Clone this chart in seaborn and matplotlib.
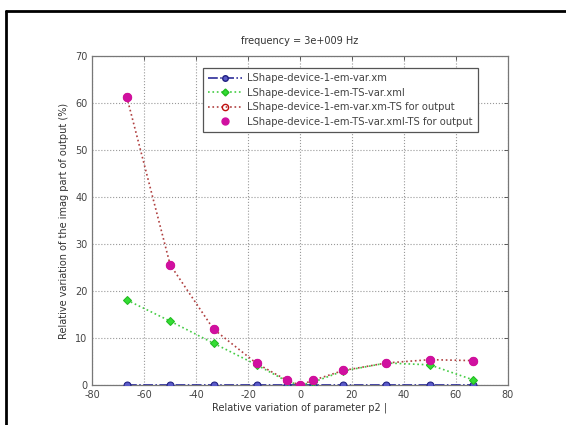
import matplotlib
matplotlib.use("Agg")
import matplotlib.pyplot as plt
import matplotlib.lines as mlines
import numpy as np
import pandas as pd
import seaborn as sns

# Relative variation of parameter p2 (%)
p2_variation = [-66.7, -50.0, -33.3, -16.7, -5.0, 0.0, 5.0, 16.7, 33.3, 50.0, 66.7]

# Relative variation of the imaginary part of the output (%)
em_var_xm = [0, 0, 0, 0, 0, 0, 0, 0, 0, 0, 0]
em_ts_var_xml = [18.1, 13.6, 8.9, 4.3, 0.8, 0.0, 0.6, 3.0, 4.7, 4.3, 1.1]
em_var_xm_ts = [61.3, 25.6, 11.9, 4.6, 1.0, 0.0, 1.0, 3.1, 4.7, 5.4, 5.2]
em_ts_var_xml_ts = [61.3, 25.6, 11.9, 4.6, 1.0, 0.0, 1.0, 3.1, 4.7, 5.4, 5.2]

series_names = [
    "LShape-device-1-em-var.xm",
    "LShape-device-1-em-TS-var.xml",
    "LShape-device-1-em-var.xm-TS for output",
    "LShape-device-1-em-TS-var.xml-TS for output",
]

df = pd.concat([
    pd.DataFrame({"p2": p2_variation, "value": vals, "series": name})
    for name, vals in zip(series_names,
                          [em_var_xm, em_ts_var_xml, em_var_xm_ts, em_ts_var_xml_ts])
])

sns.set_theme(style="white")
plt.rcParams["font.family"] = ["DejaVu Sans"]
plt.rcParams["axes.unicode_minus"] = False

fig = plt.figure(figsize=(5.66, 4.25), dpi=100)
ax = fig.add_axes([0.163, 0.094, 0.734, 0.774])

styles = {
    series_names[0]: dict(color="#1a1a90", linestyle="-.", marker="o", markersize=5,
                          markerfacecolor="#5a5ac8", markeredgecolor="#1f1f80", linewidth=1.1),
    series_names[1]: dict(color="#44cc44", linestyle=":", marker="D", markersize=4.5,
                          markerfacecolor="#33dd33", markeredgecolor="#22bb22", linewidth=1.2),
    series_names[2]: dict(color="#b04040", linestyle=":", marker="o", markersize=5.5,
                          markerfacecolor="none", markeredgecolor="#c01010", linewidth=1.2),
    series_names[3]: dict(color="#cc22aa", linestyle="none", marker="o", markersize=6,
                          markerfacecolor="#d010a0", markeredgecolor="#d010a0", linewidth=0),
}

for name in series_names:
    sub = df[df["series"] == name]
    st = styles[name]
    sns.lineplot(data=sub, x="p2", y="value", ax=ax, color=st["color"],
                 linestyle=st["linestyle"], linewidth=st["linewidth"],
                 marker=st["marker"], markersize=st["markersize"],
                 markerfacecolor=st["markerfacecolor"],
                 markeredgecolor=st["markeredgecolor"],
                 legend=False, label=name, zorder=3)

ax.set_xlim(-80, 80)
ax.set_ylim(0, 70)
ax.set_xticks(np.arange(-80, 81, 20))
ax.set_yticks(np.arange(0, 71, 10))
ax.tick_params(axis="both", direction="in", length=3, labelsize=7,
               colors="#444444", width=0.6)
ax.tick_params(top=True, right=True)
ax.grid(True, linestyle=":", color="#999999", linewidth=0.8)
for sp in ax.spines.values():
    sp.set_color("#777777")
    sp.set_linewidth(0.9)

ax.set_title("frequency = 3e+009 Hz", fontsize=7, color="#333333", pad=9)
ax.set_xlabel("Relative variation of parameter p2 |", fontsize=7, color="#333333", labelpad=2)
ax.set_ylabel("Relative variation of the imag part of output (%)", fontsize=7,
              color="#333333", labelpad=4)

handles = []
for name in series_names:
    st = styles[name]
    handles.append(mlines.Line2D([], [], color=st["color"], linestyle=st["linestyle"],
                                 linewidth=st["linewidth"], marker=st["marker"],
                                 markersize=st["markersize"] - 1,
                                 markerfacecolor=st["markerfacecolor"],
                                 markeredgecolor=st["markeredgecolor"]))
leg = ax.legend(handles, series_names, loc="upper left", bbox_to_anchor=(0.255, 0.978),
                fontsize=7.2, frameon=True, fancybox=False, framealpha=1,
                edgecolor="#555555", handlelength=3.4, handletextpad=0.5,
                borderpad=0.5, labelspacing=0.45)
leg.get_frame().set_linewidth(0.9)
for t in leg.get_texts():
    t.set_color("#444444")

# Outer frame lines along the top and left edge of the figure
fig.add_artist(mlines.Line2D([6 / 566, 1.0], [1 - 11 / 425, 1 - 11 / 425],
                             transform=fig.transFigure, color="black", linewidth=2))
fig.add_artist(mlines.Line2D([6 / 566, 6 / 566], [0.0, 1 - 11 / 425],
                             transform=fig.transFigure, color="black", linewidth=2))

fig.savefig("out.png", dpi=100)
